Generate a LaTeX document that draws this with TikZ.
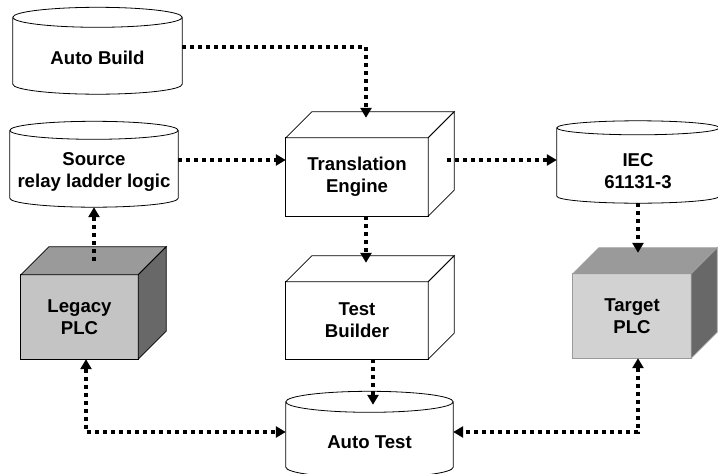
\documentclass[tikz,border=0pt]{standalone}
\usepackage{fontspec}
\setmainfont{Liberation Sans}
\usetikzlibrary{arrows.meta,calc}

\definecolor{plcfront}{HTML}{C4C4C4}
\definecolor{plcfrontlight}{HTML}{D2D2D2}
\definecolor{plctop}{HTML}{9A9A9A}
\definecolor{plcside}{HTML}{686868}

% cylinder outline around a body node; #2 = radius of the end ellipses
\newcommand\drawcyl[2]{%
  \draw[outl, fill=white] let \p1=(#1.north west), \p2=(#1.south east) in
    (\x1,{\y1+#2}) -- (\x1,{\y2+#2})
    arc[start angle=180, end angle=360, x radius={(\x2-\x1)/2}, y radius=#2]
    -- (\x2,{\y1+#2})
    arc[start angle=0, end angle=180, x radius={(\x2-\x1)/2}, y radius=#2]
    arc[start angle=180, end angle=360, x radius={(\x2-\x1)/2}, y radius=#2];
}
% box in oblique view around a front-face node; #2 = depth
% #3 front, #4 top, #5 side fill, #6 edge colour
\newcommand\drawcube[6]{%
  \filldraw[outl, draw=#6, fill=#3] (#1.south west) rectangle (#1.north east);
  \filldraw[outl, draw=#6, fill=#4] (#1.north west) -- ++(#2,{-#2}) -- ($(#1.north east)+(#2,{-#2})$) -- (#1.north east) -- cycle;
  \filldraw[outl, draw=#6, fill=#5] (#1.north east) -- ++(#2,{-#2}) -- ($(#1.south east)+(#2,{-#2})$) -- (#1.south east) -- cycle;
}

\begin{document}
\begin{tikzpicture}[x=1pt, y=-1pt,
  outl/.style={draw=black, line width=0.8pt, line join=miter},
  body/.style={draw=none, inner sep=0pt, align=center,
    font=\fontsize{18.6}{22}\selectfont\bfseries},
  conn/.style={line width=3.5pt, dash pattern=on 4pt off 4pt,
    -{Triangle[length=10pt, width=11pt]}},
  conn2/.style={line width=3.5pt, dash pattern=on 4pt off 4pt,
    {Triangle[length=10pt, width=11pt]}-{Triangle[length=10pt, width=11pt]}}
]
\useasboundingbox (0,0) rectangle (718,474);
\clip (0,0) rectangle (718,474);
\fill[white] (0,0) rectangle (718,474);

% cylinders (body = front region between the two end ellipses)
\node[body, minimum width=169pt, minimum height=66.5pt] (build) at (97.5,60.75) {};
\node[body, minimum width=168pt, minimum height=67.5pt] (src) at (94,173.25) {};
\node[body, minimum width=162pt, minimum height=68pt] (iec) at (638,169) {};
\node[body, minimum width=167pt, minimum height=65pt] (at) at (369.5,445) {};

\drawcyl{build}{10pt}
\drawcyl{src}{9pt}
\drawcyl{iec}{7pt}
\drawcyl{at}{10.5pt}

\node[body] (build-t) at (97.5,58) {Auto Build};
\node[body] (src-t) at (94,171.5) {Source\\relay ladder logic};
\node[body] (iec-t) at (638,171) {IEC\\61131-3};
\node[body] (at-t) at (369.5,442) {Auto Test};

% boxes (node = front face)
\node[body, minimum width=142pt, minimum height=78pt] (trans) at (357,177) {};
\node[body, minimum width=142pt, minimum height=77pt] (testb) at (357,320.5) {};
\node[body, minimum width=117pt, minimum height=84pt] (legacy) at (79.5,317) {};
\node[body, minimum width=118pt, minimum height=84pt] (target) at (632,316) {};

\drawcube{trans}{26}{white}{white}{white}{black}
\drawcube{testb}{26}{white}{white}{white}{black}
\drawcube{legacy}{28}{plcfront}{plctop}{plcside}{black}
\drawcube{target}{26}{plcfrontlight}{plctop}{plcside}{plctop}

\node[body] (trans-t) at (trans.center) {Translation\\Engine};
\node[body] (testb-t) at (testb.center) {Test\\Builder};
\node[body] (legacy-t) at (legacy.center) {Legacy\\PLC};
\node[body] (target-t) at (target.center) {Target\\PLC};

% data flow
\draw[conn] ([yshift=13.75pt]build.east) -| ([xshift=9pt,yshift=20pt]trans.north);
\draw[conn] ([yshift=13.25pt]src.east) -- ([yshift=17pt]trans.west);
\draw[conn] ([xshift=19pt,yshift=17pt]trans.east) -- ([yshift=9pt]iec.west);
\draw[conn] ([xshift=9pt]trans.south) -- ([xshift=9pt,yshift=19pt]testb.north);
\draw[conn] ([xshift=16pt]testb.south) -- ([xshift=3.5pt,yshift=7.5pt]at.north);
\draw[conn] ([xshift=14.5pt,yshift=14pt]legacy.north) -- (src.south);
\draw[conn] (iec.south) -- ([xshift=6pt,yshift=21pt]target.north);
\draw[conn2] ([xshift=6.5pt]legacy.south) |- ([yshift=13pt]at.west);
\draw[conn2] ([xshift=6pt]target.south) |- ([yshift=13pt]at.east);
\end{tikzpicture}
\end{document}
